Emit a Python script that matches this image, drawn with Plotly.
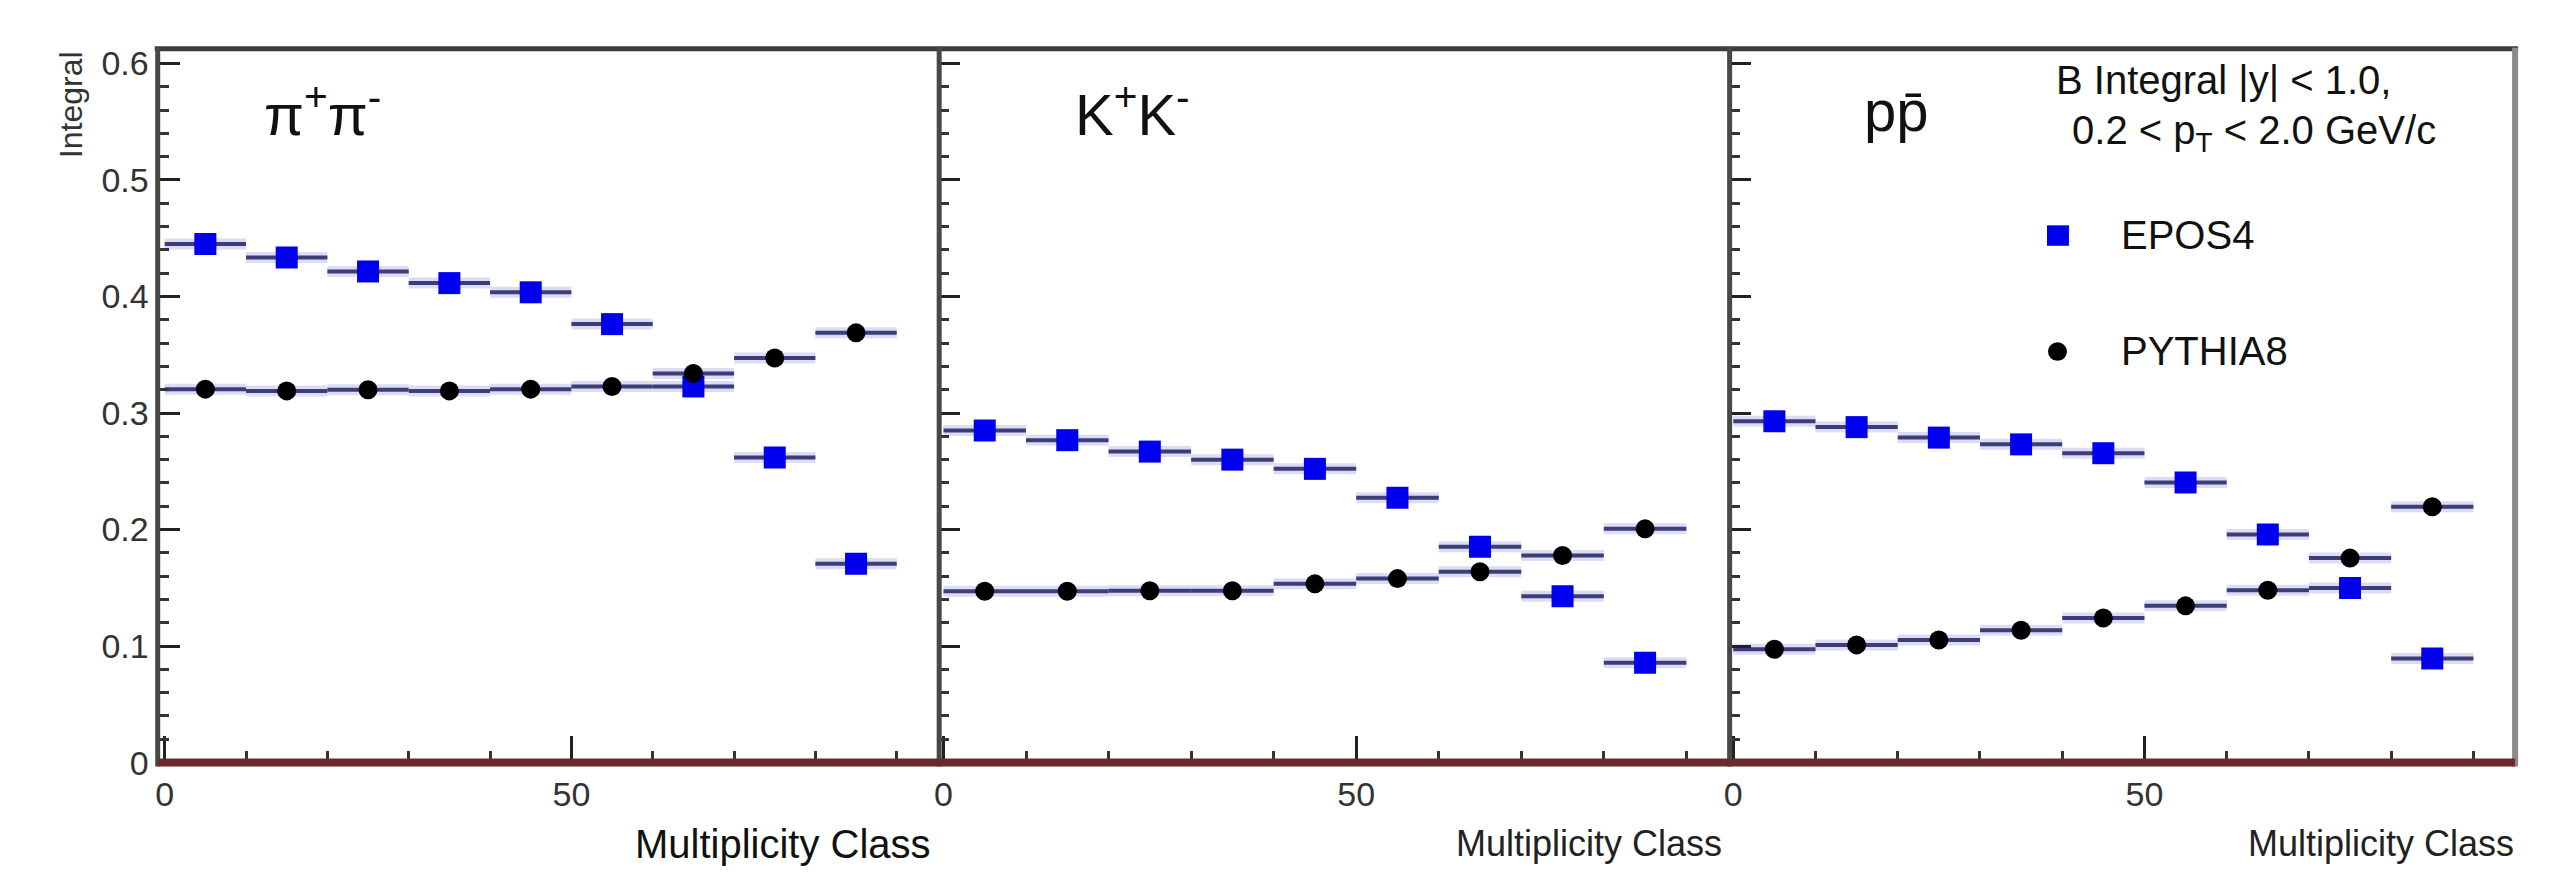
import plotly.graph_objects as go

# ---------------- data ----------------
mult_class = [5, 15, 25, 35, 45, 55, 65, 75, 85]
bin_half_width = [5, 5, 5, 5, 5, 5, 5, 5, 5]

epos_pi = [0.445, 0.4335, 0.4215, 0.4115, 0.4036, 0.3763, 0.3228, 0.2619, 0.1707]
pythia_pi = [0.3205, 0.319, 0.320, 0.319, 0.3205, 0.3228, 0.3339, 0.3473, 0.3688]

epos_k = [0.2851, 0.2767, 0.2669, 0.2600, 0.2521, 0.2273, 0.1852, 0.1428, 0.0856]
pythia_k = [0.147, 0.147, 0.1475, 0.1475, 0.1534, 0.1579, 0.1638, 0.1777, 0.2006]

epos_p = [0.2929, 0.2879, 0.2789, 0.2731, 0.2655, 0.2404, 0.1958, 0.1498, 0.0893]
pythia_p = [0.0973, 0.101, 0.1052, 0.1136, 0.1241, 0.1345, 0.1479, 0.1755, 0.2195]

panel_labels = ["π<sup>+</sup>π<sup>-</sup>", "K<sup>+</sup>K<sup>-</sup>", "pp\u0304"]
y_tick_vals = [0, 0.1, 0.2, 0.3, 0.4, 0.5, 0.6]
y_tick_text = ["0", "0.1", "0.2", "0.3", "0.4", "0.5", "0.6"]
x_tick_vals = [0, 50]
x_tick_text = ["0", "50"]

# ---------------- geometry ----------------
W, H = 2566, 883
def px(x):
    return x / W
def py(y):
    return 1 - y / H

FONT = "Liberation Sans, Arial, Helvetica, sans-serif"
BLUE = "#0000ee"
ERR = "#3d3d78"
HALO = "rgba(140,140,225,0.30)"

panels = [
    dict(dom=(153, 933), rng=(-0.86, 94.85), epos=epos_pi, pyth=pythia_pi),
    dict(dom=(935, 1726), rng=(-0.64, 95.0), epos=epos_k, pyth=pythia_k),
    dict(dom=(1727, 2515), rng=(-0.56, 95.07), epos=epos_p, pyth=pythia_p),
]

fig = go.Figure()

for i, p in enumerate(panels, start=1):
    xa = "x" if i == 1 else f"x{i}"
    ya = "y" if i == 1 else f"y{i}"
    for vals in (p["epos"], p["pyth"]):
        fig.add_trace(go.Scatter(
            x=mult_class, y=vals, xaxis=xa, yaxis=ya, mode="markers",
            marker=dict(size=1, opacity=0),
            error_x=dict(type="data", array=bin_half_width, thickness=11,
                         width=0, color=HALO),
            showlegend=False, hoverinfo="skip"))
    fig.add_trace(go.Scatter(
        x=mult_class, y=p["epos"], xaxis=xa, yaxis=ya, mode="markers",
        name="EPOS4", legendgroup="EPOS4", showlegend=False,
        marker=dict(symbol="square", size=22, color=BLUE),
        error_x=dict(type="data", array=bin_half_width, thickness=4,
                     width=0, color=ERR)))
    fig.add_trace(go.Scatter(
        x=mult_class, y=p["pyth"], xaxis=xa, yaxis=ya, mode="markers",
        name="PYTHIA8", legendgroup="PYTHIA8", showlegend=False,
        marker=dict(symbol="circle", size=19, color="black"),
        error_x=dict(type="data", array=bin_half_width, thickness=4,
                     width=0, color=ERR)))

    xkey = "xaxis" if i == 1 else f"xaxis{i}"
    ykey = "yaxis" if i == 1 else f"yaxis{i}"
    fig.update_layout({
        xkey: dict(
            domain=[px(p["dom"][0]), px(p["dom"][1])], range=list(p["rng"]),
            anchor=ya, showline=False, zeroline=False, showgrid=False,
            ticks="inside", tickvals=x_tick_vals, ticktext=x_tick_text,
            ticklen=27, tickwidth=3, tickcolor="#222",
            minor=dict(ticks="inside", dtick=10, tick0=0, ticklen=12,
                       tickwidth=3, tickcolor="#333", showgrid=False),
            tickfont=dict(family=FONT, size=34, color="#333"),
            ticklabelstandoff=8),
        ykey: dict(
            domain=[py(779), py(46)], range=[0, 0.6134], anchor=xa,
            showline=False, zeroline=False, showgrid=False,
            ticks="inside", tickvals=y_tick_vals, ticktext=y_tick_text,
            ticklen=22, tickwidth=3, tickcolor="#222",
            minor=dict(ticks="inside", dtick=0.02, tick0=0, ticklen=11,
                       tickwidth=3, tickcolor="#333", showgrid=False),
            showticklabels=(i == 1),
            tickfont=dict(family=FONT, size=34, color="#333"),
            ticklabelstandoff=8),
    })

# ---------------- frame lines ----------------
shapes = [
    dict(type="line", xref="paper", yref="paper", x0=px(150), x1=px(2518),
         y0=py(47), y1=py(47), line=dict(color="#3c3c3c", width=5)),
    dict(type="line", xref="paper", yref="paper", x0=px(2515), x1=px(2515),
         y0=py(46), y1=py(783), line=dict(color="#8c8c8c", width=6)),
]
for xl in (153, 936, 1728):
    shapes.append(dict(type="line", xref="paper", yref="paper", x0=px(xl), x1=px(xl),
                       y0=py(46), y1=py(783), line=dict(color="#484848", width=5)))
shapes.append(dict(type="line", xref="paper", yref="paper", x0=px(153), x1=px(2515),
                   y0=py(779), y1=py(779), line=dict(color="#6a2a2a", width=8)))
# legend keys
shapes.append(dict(type="rect", xref="paper", yref="paper", x0=px(2046), x1=px(2068),
                   y0=py(249), y1=py(228), fillcolor=BLUE, line=dict(width=0)))
shapes.append(dict(type="circle", xref="paper", yref="paper", x0=px(2047), x1=px(2066),
                   y0=py(367), y1=py(348), fillcolor="black", line=dict(width=0)))

annotations = []
def txt(text, x, y, size, xanchor="left", yanchor="middle", angle=0, color="#111"):
    annotations.append(dict(text=text, x=px(x), y=py(y), xref="paper", yref="paper",
                            xanchor=xanchor, yanchor=yanchor, showarrow=False,
                            textangle=angle, font=dict(family=FONT, size=size, color=color)))

txt("Integral", 66, 47, 32, xanchor="center", yanchor="top", angle=-90, color="#333")
label_x = [318, 1130, 1895]
for lab, lx in zip(panel_labels, label_x):
    txt(lab, lx, 110, 58, xanchor="center")
txt("Multiplicity Class", 930, 862, 40, xanchor="right")
txt("Multiplicity Class", 1722, 862, 36, xanchor="right", color="#222")
txt("Multiplicity Class", 2516, 862, 36, xanchor="right", color="#222")
txt("B Integral |y| &lt; 1.0,", 2053, 79, 40)
txt(" 0.2 &lt; p<sub>T</sub> &lt; 2.0 GeV/c", 2058, 133, 40)
txt("EPOS4", 2118, 238, 40)
txt("PYTHIA8", 2118, 357, 40)

fig.update_layout(
    width=W, height=H, autosize=False,
    margin=dict(l=0, r=0, t=0, b=0),
    paper_bgcolor="white", plot_bgcolor="white",
    shapes=shapes, annotations=annotations, showlegend=False,
)

fig.write_html("out.html")
